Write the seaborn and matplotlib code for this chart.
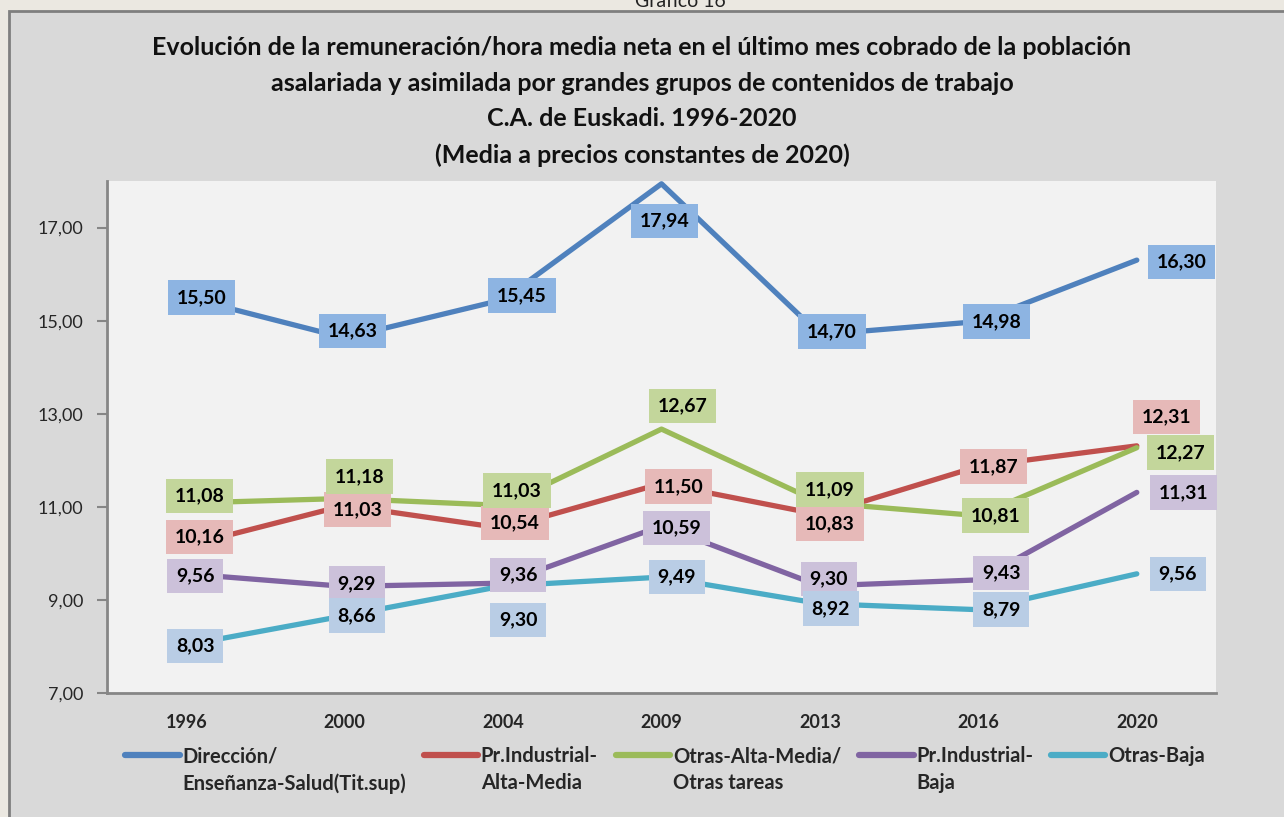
import numpy as np
import pandas as pd
import matplotlib
matplotlib.use("Agg")
import matplotlib.pyplot as plt
from matplotlib.patches import Rectangle
import seaborn as sns

YEARS = ["1996", "2000", "2004", "2009", "2013", "2016", "2020"]

SERIES = ["Dirección/\nEnseñanza-Salud(Tit.sup)", "Pr.Industrial-\nAlta-Media",
          "Otras-Alta-Media/\nOtras tareas", "Pr.Industrial-\nBaja", "Otras-Baja"]

DIRECCION = [15.50, 14.63, 15.45, 17.94, 14.70, 14.98, 16.30]
IND_ALTA = [10.16, 11.03, 10.54, 11.50, 10.83, 11.87, 12.31]
OTRAS_ALTA = [11.08, 11.18, 11.03, 12.67, 11.09, 10.81, 12.27]
IND_BAJA = [9.56, 9.29, 9.36, 10.59, 9.30, 9.43, 11.31]
OTRAS_BAJA = [8.03, 8.66, 9.30, 9.49, 8.92, 8.79, 9.56]

LINE_COLORS = ["#4F81BD", "#C0504D", "#9BBB59", "#8064A2", "#4BACC6"]
BOX_COLORS = ["#8DB4E2", "#E6B9B8", "#C3D69B", "#CCC1DA", "#B9CDE5"]

# label offsets from the point, in pixels (x right, y down) - hand placed like Excel did
OFFSETS = [
    [(15, 0), (8, -7), (19, -4), (3, 37), (12, -3), (18, 0), (45, 2)],
    [(13, -9), (13, 4), (12, -5), (17, 3), (10, 9), (15, 0), (30, -29)],
    [(13, -7), (15, -22), (14, -15), (21, -23), (10, -13), (17, 0), (44, 5)],
    [(9, 2), (12, -3), (15, -8), (15, 2), (9, -7), (23, -7), (47, 0)],
    [(9, 1), (12, 0), (15, 34), (15, 0), (11, 5), (23, 0), (41, 0)],
]

values = [DIRECCION, IND_ALTA, OTRAS_ALTA, IND_BAJA, OTRAS_BAJA]
df = pd.DataFrame({
    "x": np.tile(np.arange(len(YEARS)), len(SERIES)),
    "valor": np.concatenate(values),
    "serie": np.repeat(SERIES, len(YEARS)),
})

sns.set_style("white")
plt.rcParams["font.family"] = ["Lato", "DejaVu Sans"]

W, H = 1284, 817
fig = plt.figure(figsize=(W / 100, H / 100), dpi=100)
fig.patch.set_facecolor("#EBE8E1")
fig.add_artist(Rectangle((9 / W, -0.02), 1.1, 1 - 11 / H + 0.02,
                         transform=fig.transFigure, facecolor="#D9D9D9",
                         edgecolor="#7F7F7F", linewidth=2, zorder=0))
fig.text(680 / W, 1 - 7 / H, "Gráfico 16", ha="center", va="baseline",
         fontsize=14, color="#222222")

fig.text(0.5, 1 - 36 / H,
         "Evolución de la remuneración/hora media neta en el último mes cobrado de la población\n"
         "asalariada y asimilada por grandes grupos de contenidos de trabajo\n"
         "C.A. de Euskadi. 1996-2020\n(Media a precios constantes de 2020)",
         ha="center", va="top", fontsize=18, fontweight="bold",
         linespacing=1.66, color="#111111")

ax = fig.add_axes([107 / W, 1 - 693 / H, (1216 - 107) / W, (693 - 181) / H])
ax.set_facecolor("#F2F2F2")

sns.lineplot(data=df, x="x", y="valor", hue="serie", hue_order=SERIES,
             palette=LINE_COLORS, linewidth=3.8, sort=False, ax=ax,
             legend=True, zorder=3)
for ln in ax.lines:
    ln.set_solid_capstyle("round")
    ln.set_solid_joinstyle("round")

handles, labels = ax.get_legend_handles_labels()
ax.get_legend().remove()

for s, vals in enumerate(values):
    for i, v in enumerate(vals):
        dx, dy = OFFSETS[s][i]
        ax.annotate(f"{v:.2f}".replace(".", ","), xy=(i, v),
                    xytext=(dx * 0.72, -dy * 0.72), textcoords="offset points",
                    ha="center", va="center", fontsize=14, fontweight="bold",
                    color="black", zorder=10 + s,
                    bbox=dict(boxstyle="square,pad=0.45", fc=BOX_COLORS[s], ec="none"))

ax.set_xlim(-0.5, len(YEARS) - 0.5)
ax.set_ylim(7, 18)
ax.set_yticks(np.arange(7, 18, 2))
ax.set_yticklabels([f"{t:.2f}".replace(".", ",") for t in np.arange(7, 18, 2)],
                   fontsize=13)
ax.set_xticks(np.arange(len(YEARS)))
ax.set_xticklabels(YEARS, fontsize=13, fontweight="bold")
ax.set_xticks(np.arange(-0.5, len(YEARS), 1), minor=True)
ax.tick_params(axis="x", which="major", length=0, pad=15)
ax.tick_params(axis="x", which="minor", length=7, width=1.5, color="#868686",
               direction="out")
ax.tick_params(axis="y", length=7, width=1.5, color="#868686", pad=10,
               direction="out", left=True)
ax.set_xlabel("")
ax.set_ylabel("")
for side in ["top", "right"]:
    ax.spines[side].set_visible(False)
for side in ["left", "bottom"]:
    ax.spines[side].set_color("#868686")
    ax.spines[side].set_linewidth(2)

leg = fig.legend(handles, labels, loc="upper center",
                 bbox_to_anchor=(665 / W, 1 - 728 / H), ncol=5, frameon=False,
                 prop={"size": 14.5, "weight": "bold"}, handlelength=2.7,
                 handleheight=1.2, handletextpad=0.12, columnspacing=0.9)
for h in leg.legend_handles:
    h.set_linewidth(4.5)
    h.set_solid_capstyle("round")
for t in leg.get_texts():
    t.set_linespacing(1.45)
# handle next to the first line of each label, as in Excel
leg._legend_handle_box.align = "top"
for col in leg._legend_handle_box.get_children():
    col.align = "left"
    for item in col.get_children():
        item.align = "top"

fig.savefig("out.png", dpi=100, facecolor=fig.get_facecolor())
